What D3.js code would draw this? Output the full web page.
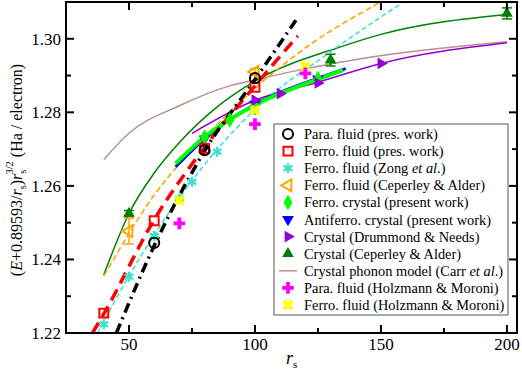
<!DOCTYPE html>
<html>
<head>
<meta charset="utf-8">
<script src="https://cdn.jsdelivr.net/npm/d3@7"></script>
<style>
  body { margin: 0; background: #fff; }
  svg { display: block; }
</style>
</head>
<body>
<script>
// ---- data ----
var paraFluidRs = [60, 80, 100];
var paraFluidE = [1.2445, 1.2697, 1.2893];
var paraFitRs = [45, 60, 80, 100, 117];
var paraFitE = [1.22, 1.2437, 1.2695, 1.2889, 1.3058];

var ferroFluidRs = [40, 60, 80, 100];
var ferroFluidE = [1.2254, 1.2505, 1.2702, 1.2868];
var ferroFitRs = [35.5, 40, 60, 80, 100, 117];
var ferroFitE = [1.22, 1.2252, 1.2508, 1.2705, 1.2872, 1.3008];

var zongRs = [40, 50, 60, 70, 75, 85, 100];
var zongE = [1.2224, 1.2353, 1.2464, 1.2566, 1.2611, 1.2693, 1.2806];
var zongFitRs = [37.5, 50, 70, 100, 129, 159];
var zongFitE = [1.22, 1.2355, 1.2568, 1.2808, 1.296, 1.31];

var caFluidRs = [50, 100];
var caFluidE = [1.2477, 1.291];
var caFluidErr = [0.0035, 0.0009];
var caFluidFitRs = [40, 60, 83, 100, 120, 150];
var caFluidFitE = [1.2355, 1.2575, 1.2752, 1.2865, 1.2975, 1.31];

var ferroCrystalRs = [80, 90, 100, 125];
var ferroCrystalE = [1.2733, 1.2779, 1.282, 1.2892];
var ferroCrystalFitRs = [68.5, 80, 100, 125, 135];
var ferroCrystalFitE = [1.2661, 1.2733, 1.282, 1.289, 1.2915];

var afCrystalRs = [80, 100, 125];
var afCrystalE = [1.2728, 1.2822, 1.2891];
var afCrystalFitRs = [68.5, 80, 100, 125, 136];
var afCrystalFitE = [1.2652, 1.2728, 1.2822, 1.2893, 1.2919];

var dnRs = [100, 110, 125, 150];
var dnE = [1.2833, 1.2851, 1.288, 1.2933];
var dnFitRs = [75, 100, 125, 150, 200];
var dnFitE = [1.2743, 1.2833, 1.2882, 1.2933, 1.2989];

var caCrystalRs = [50, 130, 200];
var caCrystalE = [1.2525, 1.2942, 1.3069];
var caCrystalErr = [0.0008, 0.0016, 0.0015];
var caCrystalFitRs = [40, 50, 60, 70, 85, 100, 134, 150, 200];
var caCrystalFitE = [1.2358, 1.2525, 1.2635, 1.2718, 1.2815, 1.2885, 1.2978, 1.3012, 1.3066];

var phononRs = [40, 50, 70, 90, 100, 114, 142, 200];
var phononE = [1.2672, 1.2743, 1.2818, 1.2872, 1.2888, 1.291, 1.2946, 1.2992];

var hmParaRs = [70, 100, 120];
var hmParaE = [1.2498, 1.2768, 1.2906];
var hmFerroRs = [70, 100, 120];
var hmFerroE = [1.2561, 1.2806, 1.2925];

var xTicks = [50, 100, 150, 200];
var xMinor = [25, 75, 125, 175];
var yTicks = [1.22, 1.24, 1.26, 1.28, 1.30];
var yMinor = [1.23, 1.25, 1.27, 1.29, 1.31];

var legendLabels = [
  ["Para. fluid (pres. work)"],
  ["Ferro. fluid (pres. work)"],
  ["Ferro. fluid (Zong ", "et al", ".)"],
  ["Ferro. fluid (Ceperley & Alder)"],
  ["Ferro. crystal (present work)"],
  ["Antiferro. crystal (present work)"],
  ["Crystal (Drummond & Needs)"],
  ["Crystal (Ceperley & Alder)"],
  ["Crystal phonon model (Carr ", "et al", ".)"],
  ["Para. fluid (Holzmann & Moroni)"],
  ["Ferro. fluid (Holzmann & Moroni)"]
];

// ---- layout ----
var W = 522, H = 375;
var pL = 66, pT = 2, pR = 517, pB = 333;
var serif = "'Liberation Serif', 'Times New Roman', serif";

var svg = d3.select("body").append("svg")
  .attr("width", W)
  .attr("height", H);

var x = d3.scaleLinear().domain([25, 204]).range([pL, pR]);
var y = d3.scaleLinear().domain([1.22, 1.31]).range([pB, pT]);

var defs = svg.append("defs");
defs.append("clipPath").attr("id", "clip")
  .append("rect").attr("x", pL).attr("y", pT)
  .attr("width", pR - pL).attr("height", pB - pT);

var plot = svg.append("g").attr("clip-path", "url(#clip)");

function pts(xs, ys) { return xs.map(function(d, i) { return [d, ys[i]]; }); }

var line = d3.line()
  .x(function(d) { return x(d[0]); })
  .y(function(d) { return y(d[1]); })
  .curve(d3.curveMonotoneX);

function drawLine(xs, ys, color, width, dash) {
  plot.append("path")
    .datum(pts(xs, ys))
    .attr("d", line)
    .attr("fill", "none")
    .attr("stroke", color)
    .attr("stroke-width", width)
    .attr("stroke-dasharray", dash || null);
}

// fits
drawLine(phononRs, phononE, "#bc8f8f", 1.5);
drawLine(caCrystalFitRs, caCrystalFitE, "#008000", 1.5);
drawLine(dnFitRs, dnFitE, "#9400d3", 1.5);
drawLine(caFluidFitRs, caFluidFitE, "#ffa500", 1.6, "6,3");
drawLine(zongFitRs, zongFitE, "#40e0d0", 1.6, "5,3");
drawLine(afCrystalFitRs, afCrystalFitE, "#0000ff", 3);
drawLine(ferroCrystalFitRs, ferroCrystalFitE, "#00ff00", 4);
drawLine(ferroFitRs, ferroFitE, "#ff0000", 3.5, "12,7");
drawLine(paraFitRs, paraFitE, "#000000", 3.5, "10,5,2,5");

// ---- markers ----
var sym = {
  circle: d3.symbol().type(d3.symbolCircle).size(80),
  square: d3.symbol().type(d3.symbolSquare).size(80),
  star: d3.symbol().type(d3.symbolAsterisk).size(70),
  diamond: d3.symbol().type(d3.symbolDiamond).size(70),
  tri: d3.symbol().type(d3.symbolTriangle).size(60),
  cross: d3.symbol().type(d3.symbolCross).size(75)
};

function marker(g, kind, color) {
  var p = g.append("path");
  if (kind == "circle") p.attr("d", sym.circle()).attr("fill", "none").attr("stroke", color).attr("stroke-width", 2);
  if (kind == "square") p.attr("d", sym.square()).attr("fill", "none").attr("stroke", color).attr("stroke-width", 2);
  if (kind == "star") p.attr("d", sym.star()).attr("fill", "none").attr("stroke", color).attr("stroke-width", 2.4);
  if (kind == "lefttri") p.attr("d", sym.tri()).attr("transform", "rotate(-90)").attr("fill", "none").attr("stroke", color).attr("stroke-width", 2);
  if (kind == "diamond") p.attr("d", sym.diamond()).attr("fill", color);
  if (kind == "down") p.attr("d", sym.tri()).attr("transform", "rotate(180)").attr("fill", color);
  if (kind == "righttri") p.attr("d", sym.tri()).attr("transform", "rotate(90)").attr("fill", color);
  if (kind == "up") p.attr("d", sym.tri()).attr("fill", color);
  if (kind == "plus") p.attr("d", sym.cross()).attr("fill", color);
  if (kind == "ex") p.attr("d", sym.cross()).attr("transform", "rotate(45)").attr("fill", color);
  if (kind == "line") p.attr("d", "M-9,0H9").attr("stroke", color).attr("stroke-width", 1.5);
}

function errorBars(xs, ys, errs, color) {
  xs.forEach(function(d, i) {
    var g = plot.append("g").attr("stroke", color).attr("stroke-width", 1.5);
    var x0 = x(d), y1 = y(ys[i] + errs[i]), y2 = y(ys[i] - errs[i]);
    g.append("line").attr("x1", x0).attr("x2", x0).attr("y1", y1).attr("y2", y2);
    g.append("line").attr("x1", x0 - 5).attr("x2", x0 + 5).attr("y1", y1).attr("y2", y1);
    g.append("line").attr("x1", x0 - 5).attr("x2", x0 + 5).attr("y1", y2).attr("y2", y2);
  });
}

function drawPoints(xs, ys, kind, color) {
  xs.forEach(function(d, i) {
    var g = plot.append("g").attr("transform", "translate(" + x(d) + "," + y(ys[i]) + ")");
    marker(g, kind, color);
  });
}

errorBars(caFluidRs, caFluidE, caFluidErr, "#ffa500");
errorBars(caCrystalRs, caCrystalE, caCrystalErr, "#008000");
drawPoints(afCrystalRs, afCrystalE, "down", "#0000ff");
drawPoints(ferroCrystalRs, ferroCrystalE, "diamond", "#00ff00");
drawPoints(dnRs, dnE, "righttri", "#9400d3");
drawPoints(caCrystalRs, caCrystalE, "up", "#008000");
drawPoints(zongRs, zongE, "star", "#40e0d0");
drawPoints(caFluidRs, caFluidE, "lefttri", "#ffa500");
drawPoints(ferroFluidRs, ferroFluidE, "square", "#ff0000");
drawPoints(paraFluidRs, paraFluidE, "circle", "#000000");
drawPoints(hmFerroRs, hmFerroE, "ex", "#ffff00");
drawPoints(hmParaRs, hmParaE, "plus", "#ff00ff");

// ---- frame and ticks ----
svg.append("rect")
  .attr("x", pL).attr("y", pT)
  .attr("width", pR - pL).attr("height", pB - pT)
  .attr("fill", "none").attr("stroke", "#000").attr("stroke-width", 2);

var ticks = svg.append("g").attr("stroke", "#000").attr("stroke-width", 2);
xTicks.concat(xMinor).forEach(function(t) {
  var len = xTicks.indexOf(t) >= 0 ? 8 : 5;
  ticks.append("line").attr("x1", x(t)).attr("x2", x(t)).attr("y1", pB).attr("y2", pB - len);
  ticks.append("line").attr("x1", x(t)).attr("x2", x(t)).attr("y1", pT).attr("y2", pT + len);
});
yTicks.concat(yMinor).forEach(function(t) {
  var len = yTicks.indexOf(t) >= 0 ? 8 : 5;
  ticks.append("line").attr("x1", pL).attr("x2", pL + len).attr("y1", y(t)).attr("y2", y(t));
  ticks.append("line").attr("x1", pR).attr("x2", pR - len).attr("y1", y(t)).attr("y2", y(t));
});

svg.append("g").selectAll("text").data(xTicks).join("text")
  .attr("x", function(d) { return x(d); })
  .attr("y", 350)
  .attr("text-anchor", "middle")
  .style("font-family", serif)
  .style("font-size", "17px")
  .text(function(d) { return d; });

svg.append("g").selectAll("text").data(yTicks).join("text")
  .attr("x", 61)
  .attr("y", function(d) { return y(d) + 6; })
  .attr("text-anchor", "end")
  .style("font-family", serif)
  .style("font-size", "17px")
  .text(function(d) { return d.toFixed(2); });

// axis titles
var xl = svg.append("text").attr("x", 286).attr("y", 364)
  .style("font-family", serif).style("font-size", "18px");
xl.append("tspan").style("font-style", "italic").text("r");
xl.append("tspan").style("font-size", "11px").attr("dy", 4).text("s");

var yl = svg.append("text")
  .attr("transform", "translate(22,170) rotate(-90)")
  .attr("text-anchor", "middle")
  .style("font-family", serif)
  .style("font-size", "16px");
yl.append("tspan").text("(");
yl.append("tspan").style("font-style", "italic").text("E");
yl.append("tspan").text("+0.89593/");
yl.append("tspan").style("font-style", "italic").text("r");
yl.append("tspan").style("font-size", "10.5px").attr("dy", 4).text("s");
yl.append("tspan").attr("dy", -4).text(")");
yl.append("tspan").style("font-style", "italic").text("r");
yl.append("tspan").style("font-size", "10.5px").attr("dy", 4).text("s");
yl.append("tspan").style("font-size", "10.5px").attr("dx", -5).attr("dy", -13).text("3/2");
yl.append("tspan").attr("dy", 9).text(" (Ha / electron)");

// ---- legend ----
var legendKinds = [
  ["circle", "#000000"], ["square", "#ff0000"], ["star", "#40e0d0"], ["lefttri", "#ffa500"],
  ["diamond", "#00ff00"], ["down", "#0000ff"], ["righttri", "#9400d3"], ["up", "#008000"],
  ["line", "#bc8f8f"], ["plus", "#ff00ff"], ["ex", "#ffff00"]
];

svg.append("rect")
  .attr("x", 274).attr("y", 124).attr("width", 234).attr("height", 191)
  .attr("fill", "#fff").attr("stroke", "#555").attr("stroke-width", 1);

legendLabels.forEach(function(parts, i) {
  var cy = 134 + i * 17.1;
  var g = svg.append("g").attr("transform", "translate(288," + cy + ")");
  marker(g, legendKinds[i][0], legendKinds[i][1]);
  var t = svg.append("text").attr("x", 304).attr("y", cy + 5)
    .style("font-family", serif).style("font-size", "14.4px");
  parts.forEach(function(p, j) {
    t.append("tspan").style("font-style", j == 1 ? "italic" : null).text(p);
  });
});
</script>
</body>
</html>
